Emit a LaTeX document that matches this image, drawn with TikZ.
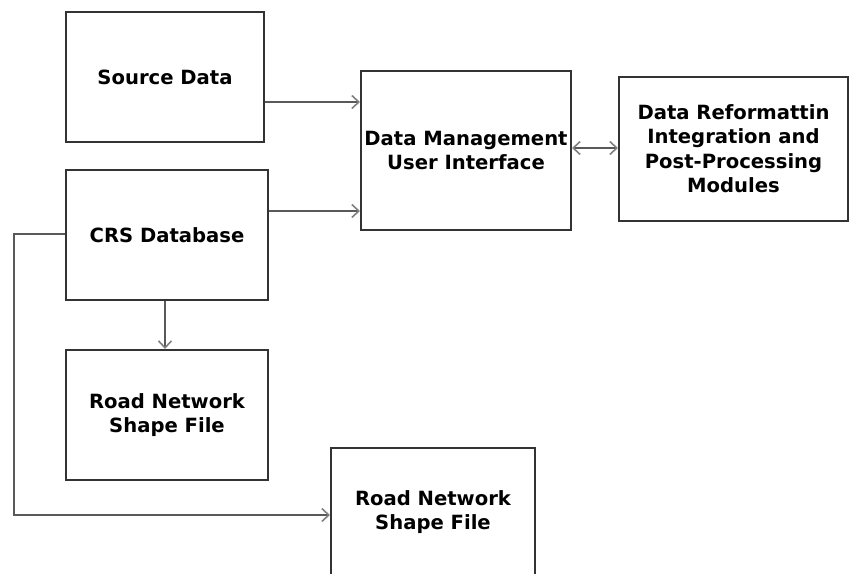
\documentclass[tikz,border=0pt]{standalone}
\usepackage{fontspec}
\setmainfont{DejaVu Sans}
\usetikzlibrary{arrows.meta}
\usetikzlibrary{positioning}

\tikzset{
  barb/.tip={Straight Barb[length=7pt,width=13pt,line width=1.6pt,color=black!50]},
  box/.style={rectangle,draw=black!80,line width=2pt,align=center,
    font=\bfseries\fontsize{19.6}{24.5}\selectfont,inner sep=0pt},
  link/.style={draw=black!65,line width=1.8pt,-barb},
  dlink/.style={link,barb-barb},
}

\begin{document}
\begin{tikzpicture}[x=1pt,y=-1pt]
\useasboundingbox (0,0) rectangle (850,573);

\node[box,minimum width=198pt,minimum height=130pt] (src) at (165,77) {Source Data};
\node[box,minimum width=202pt,minimum height=130pt] (crs) at (167,235) {CRS Database};
\node[box,minimum width=210pt,minimum height=159pt] (dm) at (466,150.5) {Data Management\\User Interface};
\node[box,minimum width=229pt,minimum height=144pt] (dr) at (733.5,148.5) {Data Reformattin\\Integration and\\Post-Processing\\Modules};
\node[box,minimum width=202pt,minimum height=130pt] (rn1) at (167,415) {Road Network\\Shape File};
\node[box,minimum width=204pt,minimum height=128pt] (rn2) at (433,512) {Road Network\\Shape File};

\draw[link] (src.east |- 0,102) -- (dm.west |- 0,102);
\draw[link] (crs.east |- 0,211) -- (dm.west |- 0,211);
\draw[dlink] (dm.east |- 0,148) -- (dr.west |- 0,148);
\draw[link] (crs.south -| 165,0) -- (rn1.north -| 165,0);
\coordinate (c1) at (14,234);
\coordinate (c2) at (14,515);
\draw[link] (crs.west |- c1) -- (c1) -- (c2) -- (rn2.west |- c2);

\end{tikzpicture}
\end{document}
